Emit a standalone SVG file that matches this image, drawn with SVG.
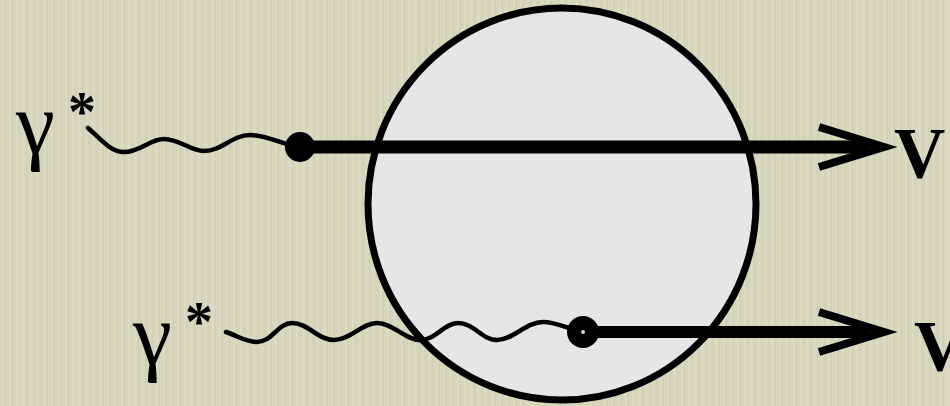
<svg xmlns="http://www.w3.org/2000/svg" width="950" height="406" viewBox="0 0 950 406">
<defs>
<pattern id="tex" width="7" height="406" patternUnits="userSpaceOnUse">
<rect width="7" height="406" fill="#d6d6bd"/>
<rect x="2" width="1.5" height="406" fill="#e0e0c9" opacity="0.7"/>
<rect x="5" width="1" height="406" fill="#cacab0" opacity="0.5"/>
</pattern>
</defs>
<style>
.lbl{font-family:"Liberation Serif","Times New Roman",serif;fill:#000}
.wave{fill:none;stroke:#000;stroke-width:4.5;stroke-linecap:round}
.line{stroke:#000;stroke-linecap:butt}
.head{fill:none;stroke:#000;stroke-width:8;stroke-linejoin:miter;stroke-miterlimit:10}
</style>
<rect width="950" height="406" fill="url(#tex)"/>
<g id="blob">
<ellipse cx="562" cy="204" rx="194" ry="196" fill="#e6e6e6" stroke="#000" stroke-width="7"/>
</g>
<g id="connectors">
<path class="wave" d="M88,128 C100,138 110,152 124,152 C140,152 150,139 164,139 C180,139 190,151 204,151 C222,151 232,135 250,135 C268,135 285,146 300,147"/>
<path class="wave" d="M226,332 C238,336 246,342 257,342 C272,342 278,323 292,323 C308,323 318,340 334,340 C350,340 362,323 377,323 C393,323 405,340 420,340 C436,340 444,323 458,323 C474,323 482,340 497,340 C513,340 526,322 543,322 C558,322 570,330 583,332"/>
<line class="line" x1="300" y1="147" x2="870" y2="147" stroke-width="13"/>
<polyline class="head" points="819,127 884,147 819,167"/>
<line class="line" x1="583" y1="332" x2="870" y2="332" stroke-width="12"/>
<polyline class="head" points="819,312 884,332 819,352"/>
</g>
<g id="vertex1"><circle cx="300" cy="147" r="15" fill="#000"/></g>
<g id="vertex2"><circle cx="583" cy="332" r="16" fill="#000"/><circle cx="583" cy="332" r="2" fill="#d0d0d0"/></g>
<g id="label-gamma1">
<text class="lbl" x="16" y="153" font-size="88">γ</text>
<text class="lbl" x="68" y="131" font-size="56" font-weight="bold">*</text>
</g>
<g id="label-gamma2">
<text class="lbl" x="133" y="364" font-size="88">γ</text>
<text class="lbl" x="185" y="341" font-size="56" font-weight="bold">*</text>
</g>
<g id="label-V1"><text class="lbl" x="894" y="177" font-size="71" font-weight="bold">V</text></g>
<g id="label-V2"><text class="lbl" x="914" y="370" font-size="71" font-weight="bold">V</text></g>
</svg>
